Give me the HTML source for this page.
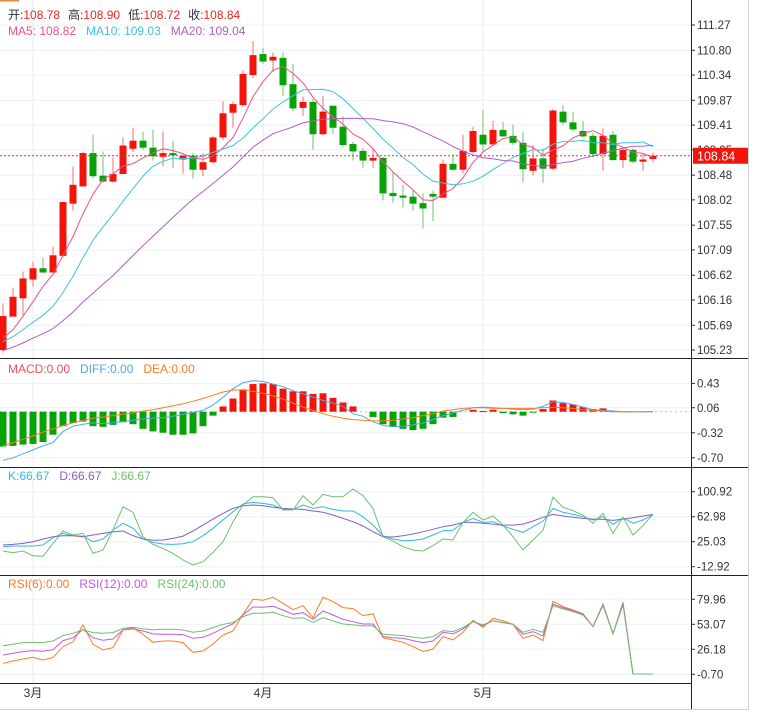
<!DOCTYPE html>
<html><head><meta charset="utf-8"><title>K-line chart</title>
<style>
html,body{margin:0;padding:0;background:#fff;}
body{width:757px;height:718px;overflow:hidden;font-family:"Liberation Sans","Noto Sans CJK SC",sans-serif;}
svg text{font-family:"Liberation Sans","Noto Sans CJK SC",sans-serif;}
</style></head>
<body>
<svg id="chart" width="757" height="718" viewBox="0 0 757 718" xmlns="http://www.w3.org/2000/svg">
  <rect x="0" y="0" width="757" height="718" fill="#fff"/>
  <rect x="0" y="0" width="19" height="1.5" fill="#f0863c"/>
  <g id="grid"></g>
  <g id="marks"></g>
  <g id="axes"></g>
  <g font-size="12">
    <text x="8" y="19"><tspan fill="#333">开:</tspan><tspan fill="#f0241a">108.78</tspan><tspan fill="#333" dx="8">高:</tspan><tspan fill="#f0241a">108.90</tspan><tspan fill="#333" dx="8">低:</tspan><tspan fill="#f0241a">108.72</tspan><tspan fill="#333" dx="8">收:</tspan><tspan fill="#f0241a">108.84</tspan></text>
    <text x="8" y="35"><tspan fill="#f0508a">MA5: 108.82</tspan><tspan fill="#3cc4dc" dx="10">MA10: 109.03</tspan><tspan fill="#b05ccc" dx="10">MA20: 109.04</tspan></text>
  </g>
  <text x="8" y="373" font-size="12"><tspan fill="#f05050">MACD:0.00</tspan><tspan fill="#4ea6f0" dx="10">DIFF:0.00</tspan><tspan fill="#ff7a22" dx="10">DEA:0.00</tspan></text>
  <text x="8" y="480" font-size="12"><tspan fill="#2bbcd8">K:66.67</tspan><tspan fill="#8a5ccc" dx="10">D:66.67</tspan><tspan fill="#6cc06c" dx="10">J:66.67</tspan></text>
  <text x="8" y="588" font-size="12"><tspan fill="#ff7a22">RSI(6):0.00</tspan><tspan fill="#c05ad8" dx="10">RSI(12):0.00</tspan><tspan fill="#6cc06c" dx="10">RSI(24):0.00</tspan></text>
</svg>
<script>
// ---- data ----
const opens  = [105.23,105.85,106.19,106.54,106.75,106.67,106.98,107.95,108.27,108.89,108.47,108.36,108.50,108.97,109.12,108.99,108.82,108.89,108.77,108.84,108.58,108.72,109.18,109.64,109.78,110.34,110.73,110.61,110.66,110.17,109.73,109.84,109.24,109.77,109.38,109.06,108.93,108.75,108.80,108.15,108.10,108.08,107.96,108.13,108.06,108.69,108.58,108.91,109.23,109.05,109.32,109.21,109.08,108.56,108.79,108.60,109.66,109.46,109.30,109.21,108.87,109.23,108.76,108.95,108.73,108.78];
const highs  = [106.10,106.39,106.69,106.87,106.95,107.15,107.99,108.64,108.92,109.23,108.92,108.81,109.18,109.36,109.29,109.32,109.29,109.12,108.89,108.89,108.89,109.21,109.85,109.85,110.43,110.97,110.84,110.76,110.76,110.55,109.94,109.89,109.95,109.77,109.57,109.10,108.98,108.98,108.82,108.54,108.30,108.20,108.14,108.19,108.77,108.87,109.23,109.38,109.69,109.49,109.47,109.42,109.28,109.04,108.98,109.71,109.78,109.65,109.49,109.26,109.35,109.30,108.98,108.98,108.87,108.90];
const lows   = [105.18,105.85,105.88,106.41,106.67,106.67,106.96,107.82,108.27,108.42,108.34,108.34,108.50,108.91,108.95,108.75,108.64,108.61,108.51,108.42,108.46,108.70,109.13,109.36,109.75,110.28,110.55,110.40,109.95,109.67,109.58,108.95,109.22,109.24,109.01,108.75,108.61,108.61,108.01,107.97,107.88,107.82,107.49,107.63,108.06,108.56,108.51,108.89,108.92,109.05,109.20,109.04,108.34,108.47,108.34,108.57,109.41,109.29,109.18,108.82,108.56,108.75,108.61,108.70,108.56,108.72];
const closes = [105.86,106.22,106.56,106.75,106.67,106.99,107.98,108.30,108.89,108.46,108.36,108.50,109.03,109.12,108.99,108.83,108.89,108.85,108.84,108.58,108.72,109.18,109.63,109.80,110.36,110.71,110.59,110.68,110.15,109.72,109.84,109.24,109.66,109.36,109.04,108.92,108.75,108.80,108.14,108.09,108.06,107.95,107.86,108.08,108.69,108.58,108.93,109.30,109.05,109.32,109.20,109.08,108.59,108.79,108.60,109.68,109.46,109.33,109.20,108.87,109.21,108.76,108.95,108.73,108.77,108.84];
const priorCloses = [104.95,105.0,104.9,105.05,105.1,105.0,105.15,105.1,105.2,105.05,105.3,105.25,105.4,105.35,105.3,105.45,105.3,105.4,105.25];
const priceTicks = [111.27,110.80,110.34,109.87,109.41,108.95,108.48,108.02,107.55,107.09,106.62,106.16,105.69,105.23];
const lastPrice = 108.84;

const macdHist = [-0.53,-0.52,-0.50,-0.49,-0.46,-0.35,-0.22,-0.17,-0.15,-0.22,-0.23,-0.20,-0.16,-0.19,-0.26,-0.30,-0.32,-0.35,-0.35,-0.33,-0.22,-0.06,0.08,0.20,0.34,0.42,0.43,0.42,0.35,0.31,0.31,0.27,0.28,0.21,0.14,0.08,0.00,-0.08,-0.19,-0.23,-0.26,-0.28,-0.26,-0.19,-0.09,-0.08,0.00,0.03,0.01,0.03,-0.02,-0.04,-0.06,-0.01,0.04,0.17,0.13,0.11,0.07,0.04,0.05,0.01,0,0,0,0];
const diffVals = [-0.74,-0.70,-0.64,-0.58,-0.52,-0.47,-0.30,-0.22,-0.19,-0.17,-0.18,-0.17,-0.15,-0.13,-0.11,-0.10,-0.09,-0.07,-0.04,-0.01,0.02,0.10,0.22,0.35,0.44,0.47,0.46,0.42,0.38,0.32,0.27,0.22,0.17,0.13,0.08,-0.03,-0.07,-0.15,-0.21,-0.23,-0.22,-0.20,-0.17,-0.12,-0.06,-0.02,0.02,0.06,0.07,0.06,0.05,0.04,0.03,0.04,0.08,0.15,0.14,0.11,0.07,0.03,0.02,0.01,0,0,0,0];
const deaVals = [-0.52,-0.47,-0.42,-0.37,-0.31,-0.26,-0.21,-0.17,-0.13,-0.10,-0.08,-0.06,-0.04,-0.02,0.01,0.03,0.06,0.09,0.12,0.16,0.20,0.25,0.30,0.33,0.33,0.31,0.28,0.24,0.19,0.13,0.07,0.02,-0.03,-0.07,-0.10,-0.12,-0.13,-0.14,-0.14,-0.13,-0.11,-0.09,-0.06,-0.03,0.01,0.03,0.05,0.06,0.06,0.05,0.05,0.05,0.05,0.05,0.06,0.07,0.06,0.05,0.03,0.02,0.01,0,0,0,0,0];
const macdTicks = [0.43,0.06,-0.32,-0.70];

const kVals = [17.5,18.5,18.5,18.5,20,31.1,37.7,34.1,33.6,25,29.1,42.7,52.9,45.3,29.1,24,21.5,21,22,25,34.1,45.3,57.9,70.6,82.2,84.7,83.2,80.7,74.1,74.1,80.7,75.6,78.2,74.1,71.6,71.6,63,50.3,34.1,29.1,26.6,27,29.1,35.2,41.7,42.7,54.4,60.4,54.4,55.4,48.8,43.8,39.2,47.8,56.4,75.6,69.6,66.5,63,57.9,63,51.3,61.5,52.9,57.9,66.5];
const dVals = [20,21,22.5,25,29.1,32.6,34.1,34.1,32.6,35.2,37.7,40.2,41.2,34.1,29.1,27.1,27.6,30.1,33.6,41.2,50.3,59.4,68,75.6,79.7,80.7,79.7,77.2,75.6,74.6,74.1,71.6,69.6,65.5,60.4,55.4,48.8,40.2,32.6,32.2,34.1,36.7,40.2,43.8,47.8,50.3,54.4,54.4,52.9,51.8,50.3,50.3,51.8,56.4,62,66.5,64,62,60.4,59.4,58.9,57.4,59.4,61.5,64,66.5];
const jVals = [10.9,8.3,10.9,3.8,2.8,22.5,41.2,35.2,37.7,7.3,12.4,42.7,78.2,69.6,32.6,21.0,14.9,7.3,-2.8,-10.4,-5.3,8.8,25.0,55.4,80.7,93.3,93.3,91.8,73.1,73.1,94.9,80.7,96.9,93.3,93.3,105,94.9,75.6,32.6,26.0,17.5,12.4,10.9,18.9,29.1,27.6,54.4,69.6,57.9,64.0,50.3,32.6,12.4,27.6,42.7,92.8,77.2,72.1,65.5,52.9,68.0,37.7,62.0,35.2,49.3,66.5];
const kdjTicks = [100.92,62.98,25.03,-12.92];

const rsi6 = [11.1,13.6,15.8,17.6,14.7,17.2,29.1,34.4,52.4,31.6,25.5,28,47,49.5,42.3,33.7,35.1,35.1,33.4,23,24.4,31.9,41.6,45.9,63.8,79.96,78.9,82.1,75.7,68.8,73.1,60.2,82.1,77.5,71,70,62.4,64.5,38.7,36.2,33.7,29.1,23.7,26.5,39.8,36.2,44.5,57.4,49.8,59.5,56.7,53.1,38,41.6,35.5,77.8,72.1,68.5,64.5,50.6,75,43,76.7,-0.34,-0.34,-0.34];
const rsi12 = [20.1,21.9,23.7,24.8,24.1,25.8,35.5,38.7,47.7,38.7,35.9,37.3,47,48.1,45.9,42.7,42.3,42.3,42,38,39.1,43.4,48.8,53.4,63.1,71.7,71.4,72.4,68.5,63.8,65.6,58.5,67.4,63.1,58.5,55.9,53.4,53.4,39.8,38.7,38,35.5,33.4,35.1,44.5,42.7,48.1,55.9,51.6,57,54.9,53.1,42.3,45.2,40.5,74.6,71,67.8,63.8,50.6,73.9,43,75.7,-0.34,-0.34,-0.34];
const rsi24 = [29.8,31.6,33.4,33.7,33.4,35.1,40.9,43.4,47,44.1,43.4,44.1,48.8,49.8,48.1,47,47.7,47.7,47,44.5,45.9,49.5,53.1,54.9,61.3,64.9,64.9,66,62.4,59.5,60.2,55.2,60.2,56.7,53.4,52.4,51.3,51.6,42.3,41.6,40.9,39.1,38,39.8,46.3,45.2,49.5,55.9,52.4,56.7,54.9,53.1,44.5,47.7,44.5,73.1,69.6,66.7,63.1,50.6,73.1,43,73.9,-0.34,-0.34,-0.34];
const rsiTicks = [79.96,53.07,26.18,-0.70];

const monthLabels = ["3月","4月","5月"];
const monthIndex = [3,26,48];

// ---- scales ----
const PLOT_R = 691;
const xOf = i => 3 + 10 * i;
const yPrice = p => 25 + (111.27 - p) * 53.81;
const yMacd = v => 411.7 - v * 65.8;
const yKdj = v => 516.7 - (v - 62.98) / 1.518;
const yRsi = v => 624.3 - (v - 53.07) * 25 / 26.89;

const NS = "http://www.w3.org/2000/svg";
const gGrid = document.getElementById('grid');
const gMarks = document.getElementById('marks');
const gAxes = document.getElementById('axes');
function mk(tag, attrs, parent) {
  const el = document.createElementNS(NS, tag);
  for (const k in attrs) el.setAttribute(k, attrs[k]);
  parent.appendChild(el);
  return el;
}

// moving averages
const allCloses = priorCloses.concat(closes);
function ma(n) {
  return closes.map((c, i) => {
    const end = priorCloses.length + i;
    let s = 0, cnt = 0;
    for (let k = Math.max(0, end - n + 1); k <= end; k++) { s += allCloses[k]; cnt++; }
    return s / cnt;
  });
}

// grid
function hgrid(vals, yf, name) {
  vals.forEach(v => {
    const l = mk('line', {x1: 0, x2: PLOT_R, y1: yf(v), y2: yf(v), stroke: '#ecf1f5', 'stroke-width': 1}, gGrid);
    
    
  });
}
hgrid(priceTicks, yPrice, 'price');
hgrid(macdTicks, yMacd, 'macd');
hgrid(kdjTicks, yKdj, 'kdj');
hgrid(rsiTicks, yRsi, 'rsi');
monthIndex.forEach((mi, k) => {
  const x = xOf(mi);
  const l = mk('line', {x1: x, x2: x, y1: 0, y2: 684, stroke: '#e6edf2', 'stroke-width': 1}, gGrid);
  
  
  const t = mk('text', {x: x, y: 697, 'font-size': 12, fill: '#333', 'text-anchor': 'middle'}, gAxes);
  t.textContent = monthLabels[k];
  
  
});

// candles
opens.forEach((o, i) => {
  const c = closes[i];
  const up = c >= o;
  const col = up ? '#f2140a' : '#06a306';
  const x = xOf(i);
  const w = mk('line', {x1: x, x2: x, y1: yPrice(highs[i]), y2: yPrice(lows[i]), stroke: up ? '#f07070' : '#6cc06c', 'stroke-width': 1}, gMarks);
  
  
  const yt = yPrice(Math.max(o, c)), yb = yPrice(Math.min(o, c));
  const r = mk('rect', {x: x - 3.5, y: yt, width: 7, height: Math.max(1.5, yb - yt), fill: col}, gMarks);
  
  
});

function line(vals, yf, color, name, width) {
  const d = vals.map((v, i) => (i ? 'L' : 'M') + xOf(i).toFixed(1) + ' ' + yf(v).toFixed(1)).join(' ');
  const p = mk('path', {d: d, fill: 'none', stroke: color, 'stroke-width': width || 1}, gMarks);
  
  
}
line(ma(5), yPrice, '#f0508a', 'ma5-line');
line(ma(10), yPrice, '#3cc4dc', 'ma10-line');
line(ma(20), yPrice, '#b05ccc', 'ma20-line');

// last price dotted line
const lp = mk('line', {x1: 0, x2: PLOT_R, y1: yPrice(lastPrice), y2: yPrice(lastPrice), stroke: '#f03030', 'stroke-width': 1, 'stroke-dasharray': '2,2'}, gMarks);



// MACD
const zl = mk('line', {x1: 0, x2: PLOT_R, y1: yMacd(0), y2: yMacd(0), stroke: '#9cc8e8', 'stroke-width': 1, 'stroke-dasharray': '2,3'}, gMarks);


macdHist.forEach((v, i) => {
  if (v === 0) return;
  const y0 = yMacd(0), y1 = yMacd(v);
  const r = mk('rect', {x: xOf(i) - 3.5, y: Math.min(y0, y1), width: 7, height: Math.max(1, Math.abs(y1 - y0)), fill: v > 0 ? '#f2140a' : '#06a306'}, gMarks);
  
  
});
line(diffVals, yMacd, '#4ea6f0', 'diff-line');
line(deaVals, yMacd, '#ff7a22', 'dea-line');

// KDJ
line(kVals, yKdj, '#2bbcd8', 'k-line');
line(dVals, yKdj, '#8a5ccc', 'd-line');
line(jVals, yKdj, '#6cc06c', 'j-line');

// RSI
line(rsi6, yRsi, '#ff7a22', 'rsi6-line');
line(rsi12, yRsi, '#c05ad8', 'rsi12-line');
line(rsi24, yRsi, '#6cc06c', 'rsi24-line');

// axis ticks
function ticks(vals, yf, name) {
  vals.forEach(v => {
    const y = yf(v);
    const tl = mk('line', {x1: PLOT_R, x2: PLOT_R + 4, y1: y, y2: y, stroke: '#333', 'stroke-width': 1}, gAxes);
    
    
    const t = mk('text', {x: PLOT_R + 6, y: y + 4, 'font-size': 11.5, fill: '#333'}, gAxes);
    t.textContent = v.toFixed(2);
    
    
  });
}
ticks(priceTicks, yPrice, 'price-axis');
ticks(macdTicks, yMacd, 'macd-axis');
ticks(kdjTicks, yKdj, 'kdj-axis');
ticks(rsiTicks, yRsi, 'rsi-axis');

// last price label
const ly = yPrice(lastPrice);
const lr = mk('rect', {x: 693, y: ly - 8, width: 55, height: 16, fill: '#f2140a'}, gAxes);


const lt = mk('text', {x: 697, y: ly + 4.5, 'font-size': 12.5, fill: '#fff'}, gAxes);
lt.textContent = lastPrice.toFixed(2);



// frame lines
[[0, 358.5, 748, 358.5], [0, 467.5, 748, 467.5], [0, 575.5, 748, 575.5], [0, 683.5, PLOT_R, 683.5], [PLOT_R + 0.5, 0, PLOT_R + 0.5, 709]].forEach(s => {
  const l = mk('line', {x1: s[0], y1: s[1], x2: s[2], y2: s[3], stroke: '#222', 'stroke-width': 1}, gAxes);
  
  
});
[[748.5, 0, 748.5, 709.5], [0, 709.5, 748.5, 709.5]].forEach(s => {
  const l = mk('line', {x1: s[0], y1: s[1], x2: s[2], y2: s[3], stroke: '#d0d0d0', 'stroke-width': 1}, gAxes);
  
  
});
</script>
</body></html>
